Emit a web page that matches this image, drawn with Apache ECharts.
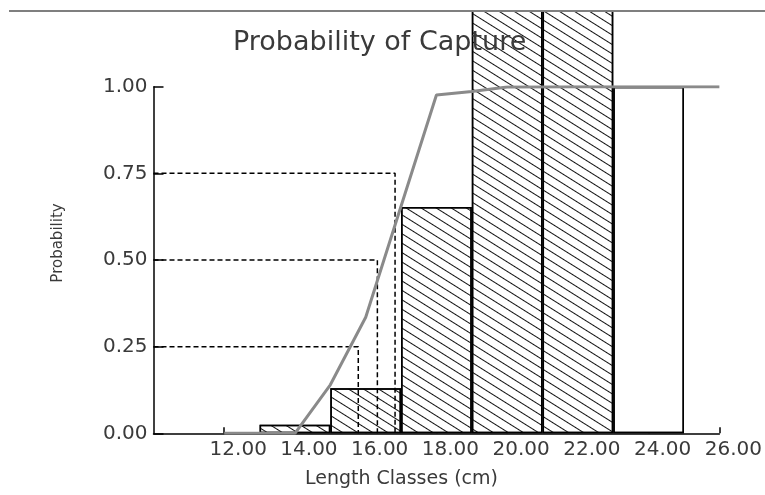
<!DOCTYPE html>
<html>
<head>
<meta charset="utf-8">
<script src="https://cdn.jsdelivr.net/npm/echarts@6/dist/echarts.min.js"></script>
<style>
  html, body { margin: 0; padding: 0; background: #fff; }
  #capture { width: 765px; height: 495px; }
</style>
</head>
<body>
<div id="capture"></div>
<script>
// length classes (midpoints, cm) and the bar heights
var classMid = [14, 16, 18, 20, 22, 24];
var classProb = [0.025, 0.13, 0.653, 1.22, 1.22, 1.0];
var classHatched = [true, true, true, true, true, false];

// probability of capture curve
var curveLen = [12, 14, 15, 16, 18, 19, 20, 22, 24, 26];
var curveProb = [0, 0, 0.14, 0.335, 0.976, 0.986, 0.999, 1.0, 1.0, 1.0];

// L25, L50, L75 guides
var cutProb = [0.25, 0.5, 0.75];
var cutLen = [15.79, 16.33, 16.83];

var xTicks = [12, 14, 16, 18, 20, 22, 24, 26];
var yTicks = [0, 0.25, 0.5, 0.75, 1];

var font = 'DejaVu Sans';
var textColor = '#3a3a3a';

var hatch = {
    symbol: 'rect',
    symbolSize: 1,
    dashArrayX: [1, 0],
    dashArrayY: [1, 7],
    rotation: 0.56,
    color: '#111'
};

var dom = document.getElementById('capture');
var myChart = echarts.init(dom);

var barData = classMid.map(function (x, i) {
    return {
        value: [x, classProb[i]],
        itemStyle: classHatched[i] ? { decal: hatch } : { decal: { symbol: 'none' } }
    };
});

var curveData = curveLen.map(function (x, i) { return [x, curveProb[i]]; });

var guideSeries = cutProb.map(function (p, i) {
    return {
        type: 'line',
        data: [[10, p], [cutLen[i], p], [cutLen[i], 0]],
        showSymbol: false,
        silent: true,
        z: 4,
        lineStyle: { color: '#000', width: 1.5, type: [5, 3] }
    };
});

var option = {
    animation: false,
    title: {
        text: 'Probability of Capture',
        left: 228,
        top: 24,
        textStyle: { fontFamily: font, fontSize: 27, fontWeight: 'normal', color: textColor }
    },
    grid: { left: 153.5, right: 45.5, top: 86.7, bottom: 61.7 },
    xAxis: {
        type: 'value',
        min: 10,
        max: 26,
        name: 'Length Classes (cm)',
        nameLocation: 'middle',
        nameGap: 36,
        nameTextStyle: { fontFamily: font, fontSize: 19, color: textColor, padding: [0, 70, 0, 0] },
        splitLine: { show: false },
        axisLine: { lineStyle: { color: '#000', width: 1.5 } },
        axisTick: { inside: true, length: 6, customValues: xTicks, lineStyle: { color: '#000', width: 1.5 } },
        axisLabel: {
            customValues: xTicks,
            formatter: function (v) { return v.toFixed(2); },
            fontFamily: font,
            fontSize: 20,
            color: textColor,
            margin: 6,
            padding: [0, 0, 0, 28]
        }
    },
    yAxis: {
        type: 'value',
        min: 0,
        max: 1,
        name: 'Probability',
        nameLocation: 'middle',
        nameGap: 88,
        nameTextStyle: { fontFamily: font, fontSize: 15, color: textColor, padding: [0, 0, 0, 34] },
        splitLine: { show: false },
        axisLine: { lineStyle: { color: '#000', width: 1.5 } },
        axisTick: { inside: true, length: 10, customValues: yTicks, lineStyle: { color: '#000', width: 1.5 } },
        axisLabel: {
            customValues: yTicks,
            formatter: function (v) { return v.toFixed(2); },
            fontFamily: font,
            fontSize: 20,
            color: textColor,
            margin: 6
        }
    },
    graphic: [{
        type: 'line',
        z: 100,
        shape: { x1: 9, y1: 11, x2: 765, y2: 11 },
        style: { stroke: '#7f7f7f', lineWidth: 2 }
    }],
    series: [{
        type: 'bar',
        data: barData,
        barWidth: '100%',
        clip: false,
        silent: true,
        z: 2,
        itemStyle: { color: '#fff', borderColor: '#000', borderWidth: 1.5 }
    }, {
        type: 'line',
        data: curveData,
        showSymbol: false,
        silent: true,
        z: 5,
        lineStyle: { color: '#8a8a8a', width: 3 }
    }].concat(guideSeries)
};

if (option && typeof option === 'object') {
    myChart.setOption(option, true);
}
</script>
</body>
</html>
